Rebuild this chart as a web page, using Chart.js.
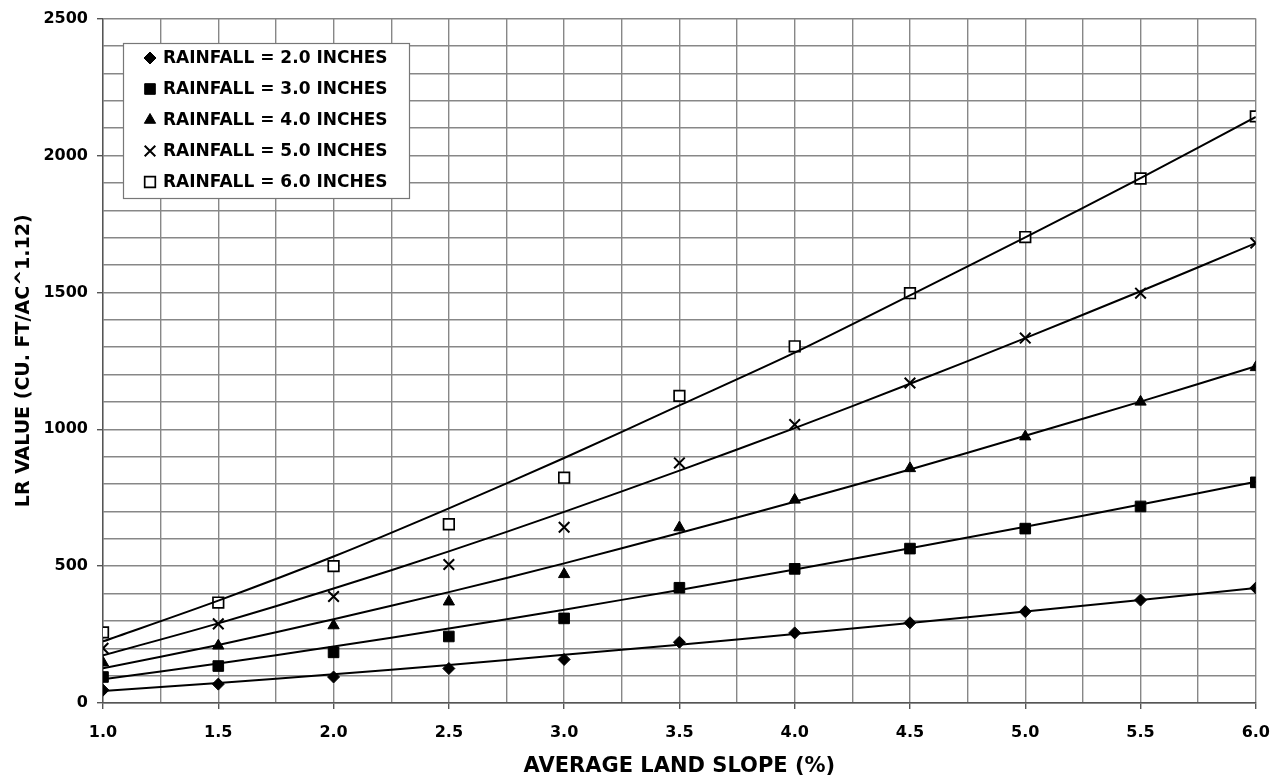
<!DOCTYPE html>
<html>
<head>
<meta charset="utf-8">
<script src="https://cdn.jsdelivr.net/npm/chart.js@4.4.1/dist/chart.umd.min.js"></script>
<style>
  html, body { margin: 0; padding: 0; background: #fff; }
  #wrap { width: 1284px; height: 782px; position: relative; }
</style>
</head>
<body>
<div id="wrap"><canvas id="lrChart"></canvas></div>
<script>
// slope values (%)
const slopes = [1.0, 1.5, 2.0, 2.5, 3.0, 3.5, 4.0, 4.5, 5.0, 5.5, 6.0];

// measured LR values per rainfall depth
const rain2 = [47, 69, 95, 126, 159, 222, 256, 293, 334, 376, 420];
const rain3 = [95, 135, 185, 243, 309, 421, 490, 564, 637, 718, 806];
const rain4 = [147, 209, 283, 370, 470, 641, 742, 857, 973, 1100, 1226];
const rain5 = [200, 289, 389, 506, 642, 877, 1017, 1169, 1333, 1497, 1680];
const rain6 = [258, 367, 500, 653, 823, 1122, 1303, 1497, 1702, 1916, 2143];

// trend lines
const trend2 = [44, 73, 105, 139, 176, 213, 252, 292, 334, 376, 420];
const trend3 = [87, 144, 206, 272, 341, 413, 488, 565, 644, 725, 808];
const trend4 = [127, 212, 306, 405, 510, 621, 735, 853, 976, 1101, 1230];
const trend5 = [174, 291, 418, 554, 698, 849, 1004, 1166, 1333, 1504, 1680];
const trend6 = [225, 374, 535, 711, 895, 1087, 1280, 1489, 1701, 1917, 2141];

const legendLabels = [
  "RAINFALL = 2.0 INCHES",
  "RAINFALL = 3.0 INCHES",
  "RAINFALL = 4.0 INCHES",
  "RAINFALL = 5.0 INCHES",
  "RAINFALL = 6.0 INCHES",
];

const GRID = "#878787";
const FONT = "'DejaVu Sans', 'Liberation Sans', Arial, sans-serif";

Chart.defaults.font.family = FONT;
Chart.defaults.font.weight = "bold";
Chart.defaults.color = "#000";

const toXY = arr => arr.map((v, i) => ({ x: slopes[i], y: v }));

// marker styles
const markers = [
  { data: rain2, pointStyle: "rectRot", radius: 6, fill: "#000", bw: 1 },
  { data: rain3, pointStyle: "rect", radius: 7.5, fill: "#000", bw: 1 },
  { data: rain4, pointStyle: "triangle", radius: 6.5, fill: "#000", bw: 1 },
  { data: rain5, pointStyle: "crossRot", radius: 7.5, fill: "#000", bw: 2 },
  { data: rain6, pointStyle: "rect", radius: 7.5, fill: "#fff", bw: 1.7 },
];

const trendSets = [trend2, trend3, trend4, trend5, trend6].map(t => ({
  type: "line",
  data: toXY(t),
  borderColor: "#000",
  borderWidth: 2,
  pointRadius: 0,
  fill: false,
  tension: 0.3,
}));

const markerSets = markers.map((m, i) => ({
  type: "scatter",
  label: legendLabels[i],
  data: toXY(m.data),
  pointStyle: m.pointStyle,
  pointRadius: m.radius,
  pointHoverRadius: m.radius,
  backgroundColor: m.fill,
  borderColor: "#000",
  pointBorderWidth: m.bw,
}));

// legend box inside the plot
const boxLegend = {
  id: "boxLegend",
  afterDatasetsDraw(chart) {
    const ctx = chart.ctx;
    const left = 123, top = 43, w = 286, h = 155;
    ctx.save();
    ctx.fillStyle = "#fff";
    ctx.fillRect(left, top, w, h);
    ctx.strokeStyle = "#777";
    ctx.lineWidth = 1.2;
    ctx.strokeRect(left + 0.5, top + 0.5, w, h);
    ctx.font = "bold 17px " + FONT;
    ctx.textBaseline = "middle";
    markerSets.forEach((ds, i) => {
      const y = 58 + i * 31;
      ctx.fillStyle = ds.backgroundColor;
      ctx.strokeStyle = "#000";
      ctx.lineWidth = ds.pointBorderWidth;
      Chart.helpers.drawPoint(ctx, {
        pointStyle: ds.pointStyle,
        radius: ds.pointRadius,
        rotation: 0,
        borderWidth: ds.pointBorderWidth,
      }, 150, y);
      ctx.fillStyle = "#000";
      ctx.fillText(ds.label, 163, y + 1);
    });
    ctx.restore();
  },
};

new Chart(document.getElementById("lrChart"), {
  data: { datasets: [...trendSets, ...markerSets] },
  plugins: [boxLegend],
  options: {
    responsive: true,
    maintainAspectRatio: false,
    animation: false,
    layout: { padding: { left: 0, right: 28, top: 13, bottom: 0 } },
    plugins: {
      legend: { display: false },
      tooltip: { enabled: false },
      title: { display: false },
    },
    scales: {
      x: {
        type: "linear",
        min: 1,
        max: 6,
        afterFit: scale => { scale.height = 79; },
        border: { color: "#555", width: 1.4 },
        grid: {
          color: GRID,
          lineWidth: 1.4,
          tickLength: 6,
          tickColor: c => (c.tick && Math.round(c.tick.value * 4) % 2 === 0 ? "#555" : "rgba(0,0,0,0)"),
        },
        ticks: {
          stepSize: 0.25,
          autoSkip: false,
          maxRotation: 0,
          padding: 14,
          font: { size: 16, weight: "bold" },
          callback: v => (Math.round(v * 4) % 2 === 0 ? v.toFixed(1) : ""),
        },
        title: {
          display: true,
          text: "AVERAGE LAND SLOPE (%)",
          font: { size: 21, weight: "bold" },
          padding: { top: 0, bottom: 3 },
        },
      },
      y: {
        type: "linear",
        min: 0,
        max: 2500,
        afterFit: scale => { scale.width = 103; },
        border: { color: "#555", width: 1.4 },
        grid: {
          color: GRID,
          lineWidth: 1.4,
          tickLength: 6,
          tickColor: c => (c.tick && c.tick.value % 500 === 0 ? "#555" : "rgba(0,0,0,0)"),
        },
        ticks: {
          stepSize: 100,
          autoSkip: false,
          padding: 9,
          font: { size: 16, weight: "bold" },
          callback: v => (v % 500 === 0 ? String(v) : ""),
        },
        title: {
          display: true,
          text: "LR VALUE (CU. FT/AC^1.12)",
          font: { size: 19, weight: "bold" },
          padding: { top: 13, bottom: 4 },
        },
      },
    },
  },
});
</script>
</body>
</html>
